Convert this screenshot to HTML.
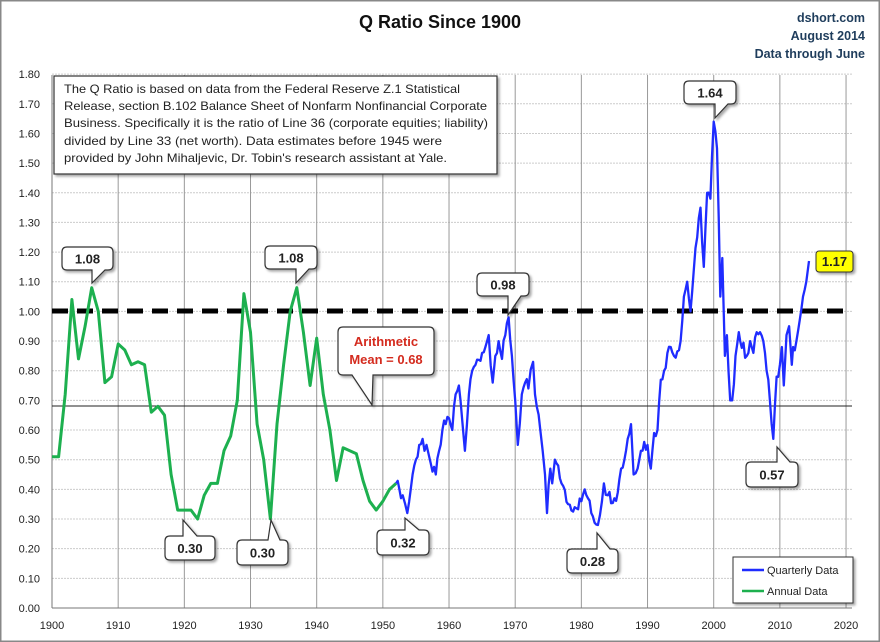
<!DOCTYPE html>
<html><head><meta charset="utf-8"><style>
html,body{margin:0;padding:0;background:#fff}
svg{display:block;font-family:"Liberation Sans",sans-serif}
</style></head><body>
<svg id="s" width="880" height="642" viewBox="0 0 880 642" xmlns="http://www.w3.org/2000/svg">
<defs><filter id="sh" x="-20%" y="-20%" width="150%" height="160%"><feDropShadow dx="2" dy="2" stdDeviation="1.2" flood-color="#000" flood-opacity="0.35"/></filter></defs>
<rect x="0.5" y="0.5" width="879" height="641" fill="#fff" stroke="#888" stroke-width="2"/>
<text x="440" y="28" text-anchor="middle" font-size="18" font-weight="bold" fill="#111">Q Ratio Since 1900</text>
<g font-size="12.5" font-weight="bold" fill="#1f3d5c" text-anchor="end">
<text x="865" y="22">dshort.com</text><text x="865" y="40">August 2014</text><text x="865" y="58">Data through June</text></g>
<g id="grid"></g>
<line x1="52" y1="406" x2="852" y2="406" stroke="#222" stroke-width="1"/>
<line x1="52" y1="311" x2="845" y2="311" stroke="#000" stroke-width="5" stroke-dasharray="16,9"/>
<polyline id="g" fill="none" stroke="#1db04f" stroke-width="3" stroke-linejoin="round"/>
<polyline id="b" fill="none" stroke="#1f2cff" stroke-width="2.3" stroke-linejoin="round"/>
<g id="co"></g>
<g filter="url(#sh)"><rect x="54" y="76" width="443" height="98" fill="#fff" stroke="#333" stroke-width="1.2"/></g>
<g font-size="12" fill="#222">
<text x="64" y="93" textLength="396" lengthAdjust="spacingAndGlyphs">The Q Ratio is based on data from the Federal Reserve Z.1 Statistical</text>
<text x="64" y="110" textLength="423" lengthAdjust="spacingAndGlyphs">Release, section B.102 Balance Sheet of Nonfarm Nonfinancial Corporate</text>
<text x="64" y="127" textLength="424" lengthAdjust="spacingAndGlyphs">Business. Specifically it is the ratio of Line 36 (corporate equities; liability)</text>
<text x="64" y="145" textLength="378" lengthAdjust="spacingAndGlyphs">divided by Line 33 (net worth).  Data estimates before 1945 were</text>
<text x="64" y="162" textLength="383" lengthAdjust="spacingAndGlyphs">provided by John Mihaljevic, Dr. Tobin's research assistant at Yale.</text>
</g>
<g filter="url(#sh)"><rect x="733" y="557" width="120" height="46" fill="#fff" stroke="#333"/></g>
<line x1="742" y1="570" x2="764" y2="570" stroke="#1f2cff" stroke-width="2.5"/>
<line x1="742" y1="591" x2="764" y2="591" stroke="#1db04f" stroke-width="2.5"/>
<g font-size="11" fill="#222"><text x="767" y="574">Quarterly Data</text><text x="767" y="595">Annual Data</text></g>
</svg>
<script>
var X=function(y){return 52+(y-1900)*6.617},Y=function(v){return 608-v*296.6};
var ns="http://www.w3.org/2000/svg",grid=document.getElementById("grid");
function el(t,a,p,txt){var e=document.createElementNS(ns,t);for(var k in a)e.setAttribute(k,a[k]);if(txt)e.textContent=txt;(p||grid).appendChild(e);return e}
for(var i=0;i<=18;i++){var y=Y(i/10);if(i>0)el("line",{x1:52,x2:852,y1:y,y2:y,stroke:"#ccc","stroke-dasharray":"2,1"});
el("text",{x:40,y:y+4,"text-anchor":"end","font-size":"11",fill:"#222"},null,(i/10).toFixed(2));}
for(var d=1900;d<=2020;d+=10){var x=X(d);if(d>1900)el("line",{x1:x,x2:x,y1:75,y2:608,stroke:"#999"});
el("text",{x:x,y:629,"text-anchor":"middle","font-size":"11",fill:"#222"},null,d);}
el("line",{x1:52,x2:52,y1:75,y2:608,stroke:"#777"});el("line",{x1:52,x2:852,y1:608,y2:608,stroke:"#777"});
var G=[1900,.51,1901,.51,1902,.72,1903,1.04,1904,.84,1905,.95,1906,1.08,1907,1.0,1908,.76,1909,.78,1910,.89,1911,.87,1912,.82,1913,.83,1914,.82,1915,.66,1916,.68,1917,.65,1918,.45,1919,.33,1920,.33,1921,.33,1922,.30,1923,.38,1924,.42,1925,.42,1926,.53,1927,.58,1928,.70,1929,1.06,1930,.93,1931,.62,1932,.50,1933,.30,1934,.62,1935,.82,1936,1.00,1937,1.08,1938,.93,1939,.75,1940,.91,1941,.72,1942,.60,1943,.43,1944,.54,1945,.53,1946,.52,1947,.43,1948,.36,1949,.33,1950,.36,1951,.40,1952,.42];
var B=[1952,.42,1952.5,.40,1953,.38,1953.7,.32,1954.5,.45,1955,.50,1955.5,.55,1956,.57,1956.3,.53,1956.6,.55,1957,.51,1957.5,.46,1958,.45,1958.5,.53,1959,.60,1959.5,.62,1960,.64,1960.5,.60,1961,.72,1961.5,.75,1962,.63,1962.4,.53,1963,.72,1963.5,.80,1964,.82,1965,.86,1965.5,.88,1966,.92,1966.6,.76,1967,.85,1967.5,.90,1968,.84,1968.5,.92,1969,.98,1969.5,.85,1970,.70,1970.4,.55,1971,.72,1971.5,.76,1972,.74,1972.7,.83,1973,.72,1973.8,.60,1974.5,.45,1974.8,.32,1975.3,.47,1975.6,.42,1976,.50,1976.5,.48,1977,.42,1978,.35,1979,.34,1980,.36,1980.5,.40,1981,.37,1981.5,.32,1982.5,.28,1983.4,.42,1984,.38,1985,.37,1985.5,.39,1986,.47,1986.5,.50,1987,.57,1987.5,.62,1987.9,.45,1988.5,.47,1989,.53,1989.5,.56,1990,.55,1990.5,.47,1991,.59,1991.5,.60,1992,.77,1992.5,.80,1993,.86,1993.5,.88,1994,.85,1995,.90,1995.5,1.05,1996,1.10,1996.5,1.0,1997,1.14,1997.5,1.25,1998,1.35,1998.5,1.15,1999,1.40,1999.5,1.38,2000,1.64,2000.5,1.55,2001,1.05,2001.3,1.18,2001.7,.85,2002,.92,2002.5,.70,2002.8,.70,2003.3,.85,2003.8,.93,2004,.90,2005,.85,2005.5,.90,2006,.86,2006.5,.93,2007,.93,2007.5,.90,2008,.80,2008.5,.70,2009,.57,2009.5,.78,2010,.82,2010.3,.88,2010.6,.75,2011,.92,2011.4,.95,2011.8,.82,2012,.88,2012.5,.90,2013,.97,2013.5,1.05,2014,1.10,2014.4,1.17];
function pts(a){var s=[];for(var i=0;i<a.length;i+=2)s.push(X(a[i]).toFixed(1)+","+Y(a[i+1]).toFixed(1));return s.join(" ")}
// densify blue with small deterministic jitter
var BD=[],k=0;
for(var i=0;i<B.length-2;i+=2){var x0=B[i],v0=B[i+1],x1=B[i+2],v1=B[i+3];BD.push(x0,v0);
 var n=Math.floor((x1-x0)/0.25);for(var j=1;j<n;j++){var t=j/n;k++;var nz=Math.sin(k*12.9898)*43758.5453;nz=(nz-Math.floor(nz)-0.5)*0.045;
 BD.push(x0+(x1-x0)*t,v0+(v1-v0)*t+nz);}}
BD.push(B[B.length-2],B[B.length-1]);
document.getElementById("g").setAttribute("points",pts(G));
document.getElementById("b").setAttribute("points",pts(BD));
var co=document.getElementById("co");
function call(x,y,w,h,tx,ty,b1,b2,lab,up){var r=5,d;
if(!up){d="M"+(x+r)+","+y+"H"+(x+w-r)+"Q"+(x+w)+","+y+" "+(x+w)+","+(y+r)+"V"+(y+h-r)+"Q"+(x+w)+","+(y+h)+" "+(x+w-r)+","+(y+h)+"H"+b2+"L"+tx+","+ty+"L"+b1+","+(y+h)+"H"+(x+r)+"Q"+x+","+(y+h)+" "+x+","+(y+h-r)+"V"+(y+r)+"Q"+x+","+y+" "+(x+r)+","+y+"Z";}
else{d="M"+(x+r)+","+y+"H"+b1+"L"+tx+","+ty+"L"+b2+","+y+"H"+(x+w-r)+"Q"+(x+w)+","+y+" "+(x+w)+","+(y+r)+"V"+(y+h-r)+"Q"+(x+w)+","+(y+h)+" "+(x+w-r)+","+(y+h)+"H"+(x+r)+"Q"+x+","+(y+h)+" "+x+","+(y+h-r)+"V"+(y+r)+"Q"+x+","+y+" "+(x+r)+","+y+"Z";}
var g=el("g",{filter:"url(#sh)"},co);el("path",{d:d,fill:"#fff",stroke:"#333","stroke-width":"1.2"},g);
if(lab)el("text",{x:x+w/2,y:y+h/2+5,"text-anchor":"middle","font-size":"13","font-weight":"bold",fill:"#222"},co,lab);}
call(62,247,51,23,92,283,92,105,"1.08");
call(265,246,52,23,296,283,296,309,"1.08");
call(477,273,52,23,508,315,508,521,"0.98");
call(684,81,52,23,715,118,715,728,"1.64");
call(165,536,50,24,183,520,183,197,"0.30",1);
call(237,540,51,25,271,520,268,280,"0.30",1);
call(377,530,52,25,405,518,405,419,"0.32",1);
call(567,549,51,24,597,533,597,610,"0.28",1);
call(746,462,52,25,777,447,777,790,"0.57",1);
call(338,327,96,48,372,405,352,373,null);
el("text",{x:386,y:346,"text-anchor":"middle","font-size":"13","font-weight":"bold",fill:"#d42b1e"},co,"Arithmetic");
el("text",{x:386,y:364,"text-anchor":"middle","font-size":"13","font-weight":"bold",fill:"#d42b1e"},co,"Mean = 0.68");
var yg=el("g",{filter:"url(#sh)"},co);el("rect",{x:816,y:251,width:37,height:21,rx:3,fill:"#ffff00",stroke:"#333"},yg);
el("text",{x:834.5,y:266,"text-anchor":"middle","font-size":"13","font-weight":"bold",fill:"#222"},co,"1.17");
</script>
</body></html>
